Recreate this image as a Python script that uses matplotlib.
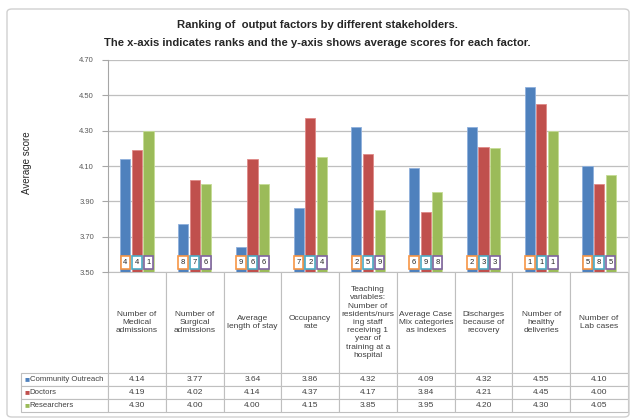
import numpy as np
import matplotlib
matplotlib.use("Agg")
import matplotlib.pyplot as plt
from matplotlib.patches import FancyBboxPatch
import matplotlib.transforms as mtransforms

plt.rcParams['font.family'] = ['Liberation Sans', 'DejaVu Sans']

# data
factors = ["Number of\nMedical\nadmissions",
           "Number of\nSurgical\nadmissions",
           "Average\nlength of stay",
           "Occupancy\nrate",
           "Teaching\nvariables:\nNumber of\nresidents/nurs\ning staff\nreceiving 1\nyear of\ntraining at a\nhospital",
           "Average Case\nMix categories\nas indexes",
           "Discharges\nbecause of\nrecovery",
           "Number of\nhealthy\ndeliveries",
           "Number of\nLab cases"]
groups = ["Community Outreach", "Doctors", "Researchers"]
community = [4.14, 3.77, 3.64, 3.86, 4.32, 4.09, 4.32, 4.55, 4.10]
doctors = [4.19, 4.02, 4.14, 4.37, 4.17, 3.84, 4.21, 4.45, 4.00]
researchers = [4.30, 4.00, 4.00, 4.15, 3.85, 3.95, 4.20, 4.30, 4.05]
rank_community = [4, 8, 9, 7, 2, 6, 2, 1, 5]
rank_doctors = [4, 7, 6, 2, 5, 9, 3, 1, 8]
rank_researchers = [1, 6, 6, 4, 9, 8, 3, 1, 5]
yticks = [3.50, 3.70, 3.90, 4.10, 4.30, 4.50, 4.70]

series = [community, doctors, researchers]
ranks = [rank_community, rank_doctors, rank_researchers]
colors = ['#4f81bd', '#c0504d', '#9bbb59']
edge_cols = ['#8fb0dc', '#e08a88', '#c5dc95']
box_cols = ['#f79646', '#4bacc6', '#8064a2']

W, H = 631, 419
fig = plt.figure(figsize=(W / 100, H / 100), dpi=100)

# outer frame
fig.patches.append(FancyBboxPatch((7 / W, 2 / H), 622 / W, 408 / H,
                                  boxstyle='round,pad=0,rounding_size=0.008',
                                  transform=fig.transFigure, fc='none',
                                  ec='#d0d0d0', lw=1.0))

ax_l, ax_r, ax_t, ax_b = 108, 628, 60, 272
ax = fig.add_axes([ax_l / W, 1 - ax_b / H, (ax_r - ax_l) / W, (ax_b - ax_t) / H])

x = np.arange(len(factors))
offs = [-0.2, 0.0, 0.2]
for vals, c, ec, o in zip(series, colors, edge_cols, offs):
    ax.bar(x + o, vals, width=0.175, color=c, edgecolor=ec, lw=0.6, zorder=3)

trans = mtransforms.blended_transform_factory(ax.transData, ax.transAxes)
for rk, bc, o in zip(ranks, box_cols, offs):
    for xi, r in zip(x, rk):
        ax.text(xi + o, 0.045, str(r), transform=trans, ha='center', va='center',
                fontsize=5.5, color='#262626', zorder=5,
                bbox=dict(boxstyle='square,pad=0.35', fc='white', ec=bc, lw=1.2))

ax.set_xlim(-0.5, len(factors) - 0.5)
ax.set_ylim(3.5, 4.7)
ax.set_yticks(yticks)
ax.set_yticklabels([f"{t:.2f}" for t in yticks], fontsize=5.5, color='#595959')
ax.set_xticks([])
ax.tick_params(axis='y', length=4, width=0.8, color='#a6a6a6', pad=6)
ax.grid(axis='y', color='#bfbfbf', lw=0.9, zorder=0)
for s in ['top', 'right', 'bottom']:
    ax.spines[s].set_visible(False)
ax.spines['left'].set_color('#a6a6a6')
ax.spines['left'].set_linewidth(0.8)

# data table; first column holds the series names
cell_text = [[g] + [f"{v:.2f}" for v in s] for g, s in zip(groups, series)]
tab_left = 21
axw, axh = ax_r - ax_l, ax_b - ax_t
head_h, row_h = 101 / axh, 13 / axh
lab_w, col_w = (ax_l - tab_left) / axw, 1 / len(factors)
tot_h = head_h + 3 * row_h
table = ax.table(cellText=cell_text, colLabels=[""] + factors, cellLoc='center',
                 colLoc='center', bbox=[-lab_w, -tot_h, 1 + lab_w, tot_h])
table.auto_set_font_size(False)
table.set_fontsize(6)
for (r, c), cell in table.get_celld().items():
    cell.set_edgecolor('#bfbfbf')
    cell.set_linewidth(0.8)
    cell.set_height(head_h if r == 0 else row_h)
    cell.set_width(lab_w if c == 0 else col_w)
    cell.get_text().set_color('#404040')
    if r == 0:
        cell.get_text().set_linespacing(1.25)
    if c == 0:
        cell.get_text().set_ha('left')
        cell.get_text().set_fontsize(5.6)
        cell._loc = 'left'
        cell.PAD = 0.1
        if r == 0:
            cell.visible_edges = ''

# legend keys inside the name column
for i, c in enumerate(colors):
    yc = -(head_h + row_h * (i + 0.5))
    ax.text(-lab_w + 3 / axw, yc, "■", transform=ax.transAxes, color=c,
            fontsize=6, ha='left', va='center')

fig.text(27 / W, 1 - 163 / H, "Average score", rotation=90, ha='center',
         va='center', fontsize=7, color='#262626')
fig.text(317 / W, 1 - 25 / H, "Ranking of  output factors by different stakeholders.",
         ha='center', va='center', fontsize=8.1, fontweight='bold', color='#262626')
fig.text(317 / W, 1 - 43 / H,
         "The x-axis indicates ranks and the y-axis shows average scores for each factor.",
         ha='center', va='center', fontsize=8.1, fontweight='bold', color='#262626')

fig.savefig("out.png", dpi=100)
